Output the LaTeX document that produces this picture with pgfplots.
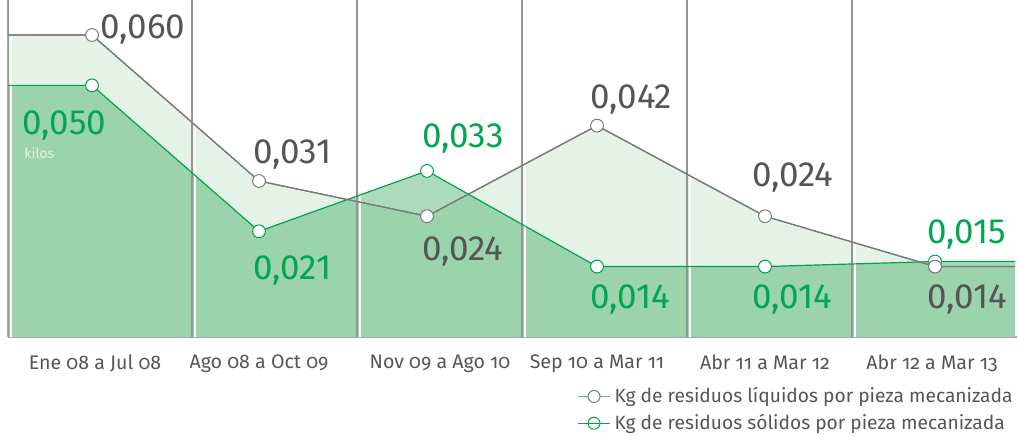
\documentclass[border=0pt]{standalone}
\usepackage{fontspec}
\setmainfont[Numbers=OldStyle]{Fira Sans}
\newfontfamily\valfont[Numbers=Lining]{Fira Sans}
\usepackage{pgfplots}
\pgfplotsset{compat=1.18}

\definecolor{areaL}{HTML}{E4F2E8}
\definecolor{areaS}{HTML}{1F9E4A}
\definecolor{lineL}{HTML}{7A7A7A}
\definecolor{lineS}{HTML}{00A24B}
\definecolor{txtgray}{HTML}{555555}
\definecolor{txtgreen}{HTML}{00A650}
\definecolor{leggreen}{HTML}{5CBF7D}

% x in pixel units of the layout, y in kg
\pgfplotstableread{
x     y
8     0.060
92    0.060
259   0.031
427   0.024
597   0.042
765   0.024
935   0.014
1015  0.014
}\liquidos
\pgfplotstableread{
x     y
8     0.050
92    0.050
259   0.021
427   0.033
597   0.014
765   0.014
935   0.015
1015  0.015
}\solidos

\begin{document}
\begin{tikzpicture}
\begin{axis}[
  at={(0pt,0pt)}, anchor=south west,
  scale only axis, width=504.5pt, height=168.5pt,
  xmin=8, xmax=1017, ymin=0, ymax=0.06696,
  clip=false,
  axis x line*=bottom, axis y line*=left,
  axis line style={draw=lineL!70, line width=0.6pt, -},
  ytick=\empty,
  xtick={95,259,440,597,765,932},
  xticklabels={Ene 08 a Jul 08, Ago 08 a Oct 09, Nov 09 a Ago 10, Sep 10 a Mar 11, Abr 11 a Mar 12, Abr 12 a Mar 13},
  major tick length=0pt,
  xticklabel style={font=\fontsize{9.8}{11}\selectfont, text=txtgray, yshift=-5.5pt},
  legend style={at={(1,-0.136)}, anchor=north east, draw=none, fill=none,
    font=\fontsize{9.6}{10.5}\selectfont, text=txtgray, row sep=0.2pt,
    inner sep=0pt},
  legend cell align=left,
]
\addlegendimage{legend image code/.code={
  \draw[leggreen, line width=0.6pt] (0pt,0pt) -- (16pt,0pt);
  \draw[lineL, fill=white, line width=0.5pt] (8pt,0pt) circle (3pt);}}
\addlegendentry{Kg de residuos líquidos por pieza mecanizada}
\addlegendimage{legend image code/.code={
  \draw[lineS, fill=white, line width=0.5pt] (8pt,0pt) circle (3pt);
  \draw[lineS, line width=0.6pt] (0pt,0pt) -- (16pt,0pt);}}
\addlegendentry{Kg de residuos sólidos por pieza mecanizada}

% areas
\addplot[forget plot, draw=none, fill=areaL] table {\liquidos} \closedcycle;
\addplot[forget plot, draw=none, fill=areaS, fill opacity=0.37] table {\solidos} \closedcycle;

% column dividers
\foreach \d in {8.5,192,357,522,687,852} {
  \edef\tmp{\noexpand\draw[white, line width=1pt] (axis cs:\d+2.5,0) -- (axis cs:\d+2.5,0.06696);}\tmp
  \edef\tmp{\noexpand\draw[lineL!80, line width=0.6pt] (axis cs:\d,0) -- (axis cs:\d,0.06696);}\tmp
}

% lines and markers
\addplot[forget plot, lineL, line width=0.6pt, mark=*, mark indices={2,3,4,5,6,7},
  mark size=3.2pt, mark options={fill=white, draw=lineL, line width=0.5pt}] table {\liquidos};
\addplot[forget plot, lineS, line width=0.6pt, mark=*, mark indices={2,3,4,5,6,7},
  mark size=3.2pt, mark options={fill=white, draw=lineS, line width=0.5pt}] table {\solidos};
\addplot[forget plot, lineL, line width=0.6pt, mark=*, mark indices={7},
  mark size=3.2pt, mark options={fill=white, draw=lineL, line width=0.5pt}] table {\liquidos};

% value labels
\tikzset{val/.style={anchor=west, inner sep=0pt, font=\valfont\fontsize{17.5}{18}\selectfont}}
\node[val, text=txtgray]  at (axis cs:100,0.0610) {0,060};
\node[val, text=txtgreen] at (axis cs:22,0.0421) {0,050};
\node[anchor=west, inner sep=0pt, text=areaL, font=\fontsize{7}{8}\selectfont] at (axis cs:24,0.0366) {kilos};
\node[val, text=txtgray]  at (axis cs:253,0.0362) {0,031};
\node[val, text=txtgreen] at (axis cs:253,0.0133) {0,021};
\node[val, text=txtgreen] at (axis cs:422,0.0395) {0,033};
\node[val, text=txtgray]  at (axis cs:422,0.0169) {0,024};
\node[val, text=txtgray]  at (axis cs:590,0.0471) {0,042};
\node[val, text=txtgreen] at (axis cs:590,0.00735) {0,014};
\node[val, text=txtgray]  at (axis cs:752,0.0316) {0,024};
\node[val, text=txtgreen] at (axis cs:752,0.00735) {0,014};
\node[val, text=txtgreen] at (axis cs:927,0.0203) {0,015};
\node[val, text=txtgray]  at (axis cs:927,0.00735) {0,014};
\end{axis}
\pgfresetboundingbox
\path[use as bounding box] (-4pt,-49.5pt) rectangle (505pt,168.5pt);
\end{tikzpicture}
\end{document}
